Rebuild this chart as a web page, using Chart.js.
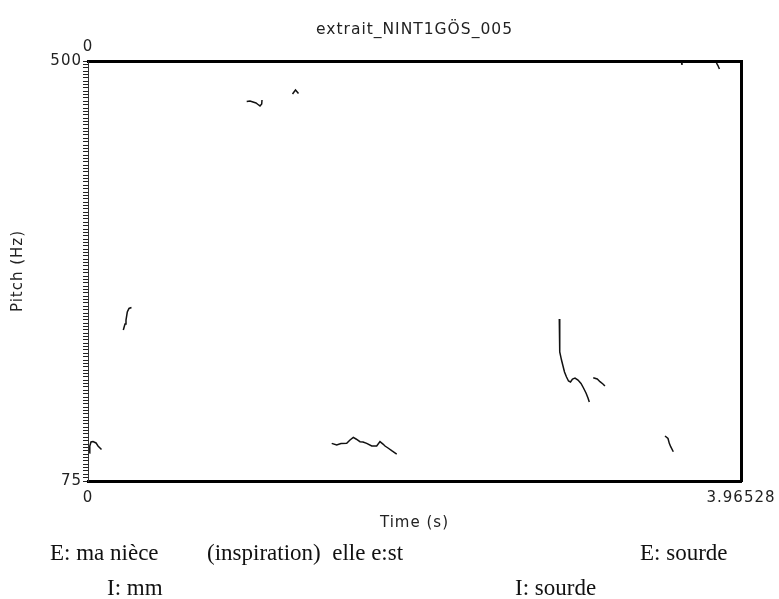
<!DOCTYPE html>
<html>
<head>
<meta charset="utf-8">
<script src="https://cdn.jsdelivr.net/npm/chart.js@4/dist/chart.umd.min.js"></script>
<style>
html,body{margin:0;padding:0;background:#fff;}
#wrap{position:relative;width:779px;height:599px;overflow:hidden;}
#c{position:absolute;left:0;top:0;}
.ann{position:absolute;font-family:"Liberation Serif","Times New Roman",serif;font-size:23px;line-height:23px;color:#111;white-space:pre;}
</style>
</head>
<body>
<div id="wrap"><canvas id="c" width="779" height="599"></canvas></div>
<script>
// ---- data (time in s, pitch in Hz) ----
const chartTitle = 'extrait_NINT1GÖS_005';
const xTitle = 'Time (s)';
const yTitle = 'Pitch (Hz)';
const xMin = 0, xMax = 3.96528;
const yMin = 75, yMax = 500;
const xTicks = [0, 3.96528];
const xTickLabels = ['0', '3.96528'];
const topTicks = [0];
const topTickLabels = ['0'];
const yTicks = [75, 500];
const yTickLabels = ['75', '500'];

const seg1Time  = [0.0079, 0.0109, 0.0182, 0.0304, 0.0486, 0.0607, 0.0820];
const seg1Pitch = [103.3, 110.4, 114.5, 115.0, 113.5, 110.4, 106.9];
const seg2Time  = [0.2144, 0.2247, 0.2307, 0.2386, 0.2490, 0.2641];
const seg2Pitch = [227.8, 233.9, 237.9, 246.0, 249.6, 250.6];
const seg3Time  = [0.9637, 0.9837, 1.0019, 1.0201, 1.0323, 1.0444, 1.0548, 1.0566];
const seg3Pitch = [459.0, 459.5, 458.5, 457.5, 456.0, 454.5, 456.5, 460.5];
const seg4Time  = [1.2418, 1.2600, 1.2782];
const seg4Pitch = [466.6, 470.7, 467.1];
const seg5Time  = [1.4799, 1.5102, 1.5363, 1.5709, 1.5910, 1.6110, 1.6274, 1.6517, 1.6699, 1.6924, 1.7227, 1.7531, 1.7731, 1.7914, 1.8035, 1.8217, 1.8442, 1.8746];
const seg5Pitch = [113.1, 111.4, 112.9, 113.1, 116.5, 119.2, 117.5, 114.8, 114.5, 113.1, 110.4, 110.4, 114.8, 112.4, 110.4, 108.4, 105.7, 102.3];
const seg6Time  = [2.8619, 2.8631, 2.8661, 2.8753, 2.8844, 2.8935, 2.9057, 2.9178, 2.9299, 2.9421, 2.9573, 2.9755, 2.9937, 3.0089, 3.0241, 3.0362, 3.0441];
const seg6Pitch = [238.9, 222.7, 205.5, 197.4, 191.4, 185.3, 180.2, 176.2, 175.2, 178.2, 179.2, 177.2, 173.7, 169.1, 164.1, 159.0, 155.0];
const seg7Time  = [3.0680, 3.0923, 3.1090, 3.1269, 3.1390];
const seg7Pitch = [179.5, 178.2, 175.5, 173.2, 171.1];
const seg8Time  = [3.5038, 3.5220, 3.5299, 3.5384, 3.5542];
const seg8Pitch = [120.5, 118.0, 113.1, 109.7, 104.6];
const seg9Time  = [3.6040, 3.6070];
const seg9Pitch = [498.5, 496.0];
const seg10Time  = [3.8161, 3.8252, 3.8343];
const seg10Pitch = [498.0, 495.4, 491.9];

const annTexts = ['E: ma nièce', '(inspiration)  elle e:st', 'E: sourde', 'I: mm', 'I: sourde'];

// ---- build ----
const segments = [
  [seg1Time, seg1Pitch], [seg2Time, seg2Pitch], [seg3Time, seg3Pitch], [seg4Time, seg4Pitch],
  [seg5Time, seg5Pitch], [seg6Time, seg6Pitch], [seg7Time, seg7Pitch], [seg8Time, seg8Pitch],
  [seg9Time, seg9Pitch], [seg10Time, seg10Pitch]
];
const datasets = segments.map(([t, f]) => ({
  data: t.map((v, i) => ({x: v, y: f[i]})),
  borderColor: '#111', borderWidth: 1.5, pointRadius: 0, tension: 0, fill: false,
  xAxisID: 'x', yAxisID: 'y'
}));

const annPos = [[50, 541], [207, 541], [640, 541], [107, 576], [515, 576]];
const wrap = document.getElementById('wrap');
annTexts.forEach((txt, i) => {
  const d = document.createElement('div');
  d.className = 'ann';
  d.style.left = annPos[i][0] + 'px';
  d.style.top = annPos[i][1] + 'px';
  d.textContent = txt;
  wrap.appendChild(d);
});

const FONT = "'DejaVu Sans', sans-serif";
const TXT = '#222';
const spacing = {
  id: 'spacing',
  beforeUpdate(c) { c.ctx.letterSpacing = '1px'; },
  beforeDraw(c) { c.ctx.letterSpacing = '1px'; }
};

new Chart(document.getElementById('c'), {
  type: 'line',
  data: { datasets },
  plugins: [spacing],
  options: {
    responsive: false,
    animation: false,
    devicePixelRatio: 1,
    layout: { padding: 0 },
    events: [],
    plugins: {
      legend: { display: false },
      tooltip: { enabled: false },
      title: { display: false }
    },
    scales: {
      x: {
        type: 'linear', position: 'bottom', min: xMin, max: xMax,
        afterBuildTicks: s => { s.ticks = xTicks.map(v => ({value: v})); },
        afterFit: s => { s.height = 118; },
        ticks: { autoSkip: false, maxRotation: 0, padding: 0, color: TXT, font: { size: 15, family: FONT },
                 callback: (v, i) => xTickLabels[i] },
        grid: { display: false },
        border: { display: true, color: '#000', width: 3 },
        title: { display: true, text: xTitle, color: TXT, font: { size: 15, family: FONT }, padding: { top: 0, bottom: 67 } }
      },
      xTop: {
        type: 'linear', position: 'top', min: xMin, max: xMax, display: true,
        afterBuildTicks: s => { s.ticks = topTicks.map(v => ({value: v})); },
        afterFit: s => { s.height = 61; },
        ticks: { display: true, autoSkip: false, maxRotation: 0, padding: 1, color: TXT, font: { size: 15, family: FONT },
                 callback: (v, i) => topTickLabels[i] },
        grid: { display: false, tickLength: 4 },
        border: { display: true, color: '#000', width: 3 },
        title: { display: true, text: chartTitle, color: TXT, font: { size: 15.5, family: FONT }, padding: { top: 21, bottom: 0 } }
      },
      y: {
        type: 'linear', position: 'left', min: yMin, max: yMax,
        afterBuildTicks: s => {
          const t = [];
          for (let i = 0; i <= 125; i++) t.push({value: yMin + i * (yMax - yMin) / 125});
          s.ticks = t;
        },
        afterFit: s => { s.width = 88; },
        ticks: { autoSkip: false, padding: 1, color: TXT, font: { size: 15, family: FONT },
                 callback: v => { const k = yTicks.findIndex(t => Math.abs(t - v) < 0.01); return k >= 0 ? yTickLabels[k] : ''; } },
        grid: { display: true, drawOnChartArea: false, drawTicks: true, tickLength: 5, color: '#222', lineWidth: 1 },
        border: { display: true, color: '#333', width: 1 },
        title: { display: true, text: yTitle, color: TXT, font: { size: 15, family: FONT }, padding: { top: 9, bottom: 0 } }
      },
      yRight: {
        type: 'linear', position: 'right', min: yMin, max: yMax,
        afterFit: s => { s.width = 38; },
        ticks: { display: false },
        grid: { display: false },
        border: { display: true, color: '#000', width: 3 }
      }
    }
  }
});
</script>
</body>
</html>
